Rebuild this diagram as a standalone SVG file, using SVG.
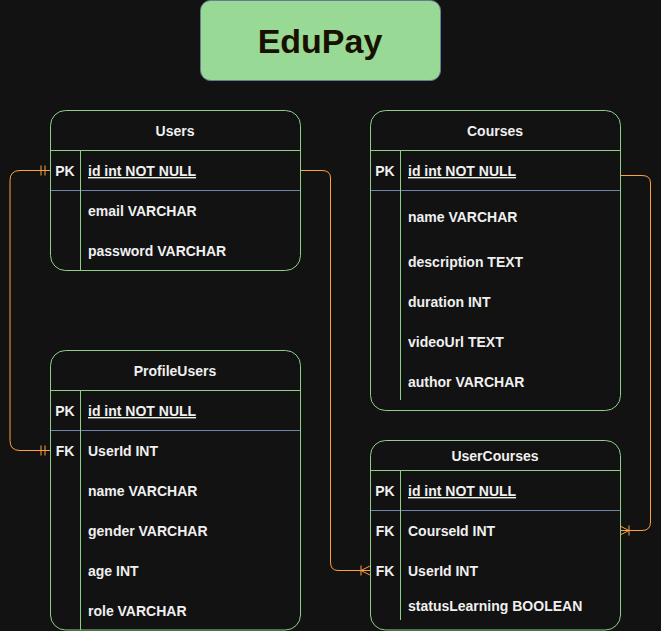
<svg xmlns="http://www.w3.org/2000/svg" width="661" height="631" viewBox="0 0 661 631">
  <style>
    .tbl { fill: #121212; stroke: #8dd086; stroke-width: 1; }
    .hl { stroke: #8dd086; stroke-width: 1; }
    .sep { stroke: #6f84a8; stroke-width: 1; }
    .t { font-family: "Liberation Sans", Arial, sans-serif; font-size: 14px; font-weight: bold; fill: #f0f0f0; }
    .c { text-anchor: middle; }
    .u { text-decoration: underline; }
    .conn { fill: none; stroke: #ffa040; stroke-width: 1; }
    .mk { fill: none; stroke: #ffa040; stroke-width: 1; }
  </style>
  <defs>
    <marker id="mandOne" markerUnits="userSpaceOnUse" markerWidth="20" markerHeight="20" viewBox="-15 -10 20 20" refX="0" refY="0" orient="auto-start-reverse" overflow="visible">
      <path class="mk" d="M-9,-5 V5 M-5,-5 V5"/>
    </marker>
    <marker id="oneMany" markerUnits="userSpaceOnUse" markerWidth="20" markerHeight="20" viewBox="-15 -10 20 20" refX="0" refY="0" orient="auto-start-reverse" overflow="visible">
      <path class="mk" d="M-9,-5 V5 M0,-4.5 L-9,0 L0,4.5"/>
    </marker>
  </defs>
  <rect x="0" y="0" width="661" height="631" fill="#121212"/>

  <g id="title">
    <rect x="200.5" y="0.5" width="240" height="80" rx="10" fill="#97d995" stroke="#6c7a99"/>
    <text x="320" y="53" text-anchor="middle" font-family="Liberation Sans, Arial, sans-serif" font-size="34" font-weight="bold" fill="#1a1000">EduPay</text>
  </g>

  <g id="connectors">
    <path class="conn" d="M50,170.5 H20 Q10,170.5 10,180.5 V440.5 Q10,450.5 20,450.5 H50" marker-start="url(#mandOne)" marker-end="url(#mandOne)"/>
    <path class="conn" d="M300,170.5 H322 Q330.5,170.5 330.5,178 V562 Q330.5,570.5 338,570.5 H370" marker-end="url(#oneMany)"/>
    <path class="conn" d="M620,175.5 H642 Q650.5,175.5 650.5,183 V522 Q650.5,530.5 642,530.5 H620" marker-end="url(#oneMany)"/>
  </g>

  <g id="users">
    <rect class="tbl" x="50.5" y="110.5" width="250" height="160" rx="15"/>
    <line class="hl" x1="50.5" y1="150.5" x2="300.5" y2="150.5"/>
    <line class="sep" x1="51" y1="190.5" x2="300" y2="190.5"/>
    <line class="hl" x1="80.5" y1="151" x2="80.5" y2="270"/>
    <text class="t c" x="175" y="136">Users</text>
    <text class="t c" x="65" y="176">PK</text>
    <text class="t u" x="88" y="176">id int NOT NULL</text>
    <text class="t" x="88" y="216">email VARCHAR</text>
    <text class="t" x="88" y="256">password VARCHAR</text>
  </g>

  <g id="courses">
    <rect class="tbl" x="370.5" y="110.5" width="250" height="300" rx="15"/>
    <line class="hl" x1="370.5" y1="150.5" x2="620.5" y2="150.5"/>
    <line class="sep" x1="371" y1="190.5" x2="620" y2="190.5"/>
    <line class="hl" x1="400.5" y1="151" x2="400.5" y2="400"/>
    <text class="t c" x="495" y="136">Courses</text>
    <text class="t c" x="385" y="176">PK</text>
    <text class="t u" x="408" y="176">id int NOT NULL</text>
    <text class="t" x="408" y="222">name VARCHAR</text>
    <text class="t" x="408" y="267">description TEXT</text>
    <text class="t" x="408" y="307">duration INT</text>
    <text class="t" x="408" y="347">videoUrl TEXT</text>
    <text class="t" x="408" y="387">author VARCHAR</text>
  </g>

  <g id="profileusers">
    <rect class="tbl" x="50.5" y="350.5" width="250" height="279.5" rx="15"/>
    <line class="hl" x1="50.5" y1="390.5" x2="300.5" y2="390.5"/>
    <line class="sep" x1="51" y1="430.5" x2="300" y2="430.5"/>
    <line class="hl" x1="80.5" y1="391" x2="80.5" y2="630"/>
    <text class="t c" x="175" y="376">ProfileUsers</text>
    <text class="t c" x="65" y="416">PK</text>
    <text class="t u" x="88" y="416">id int NOT NULL</text>
    <text class="t c" x="65" y="456">FK</text>
    <text class="t" x="88" y="456">UserId INT</text>
    <text class="t" x="88" y="496">name VARCHAR</text>
    <text class="t" x="88" y="536">gender VARCHAR</text>
    <text class="t" x="88" y="576">age INT</text>
    <text class="t" x="88" y="616">role VARCHAR</text>
  </g>

  <g id="usercourses">
    <rect class="tbl" x="370.5" y="440.5" width="250" height="189.5" rx="15"/>
    <line class="hl" x1="370.5" y1="470.5" x2="620.5" y2="470.5"/>
    <line class="sep" x1="371" y1="510.5" x2="620" y2="510.5"/>
    <line class="hl" x1="400.5" y1="471" x2="400.5" y2="620"/>
    <text class="t c" x="495" y="461">UserCourses</text>
    <text class="t c" x="385" y="496">PK</text>
    <text class="t u" x="408" y="496">id int NOT NULL</text>
    <text class="t c" x="385" y="536">FK</text>
    <text class="t" x="408" y="536">CourseId INT</text>
    <text class="t c" x="385" y="576">FK</text>
    <text class="t" x="408" y="576">UserId INT</text>
    <text class="t" x="408" y="611">statusLearning BOOLEAN</text>
  </g>
</svg>
